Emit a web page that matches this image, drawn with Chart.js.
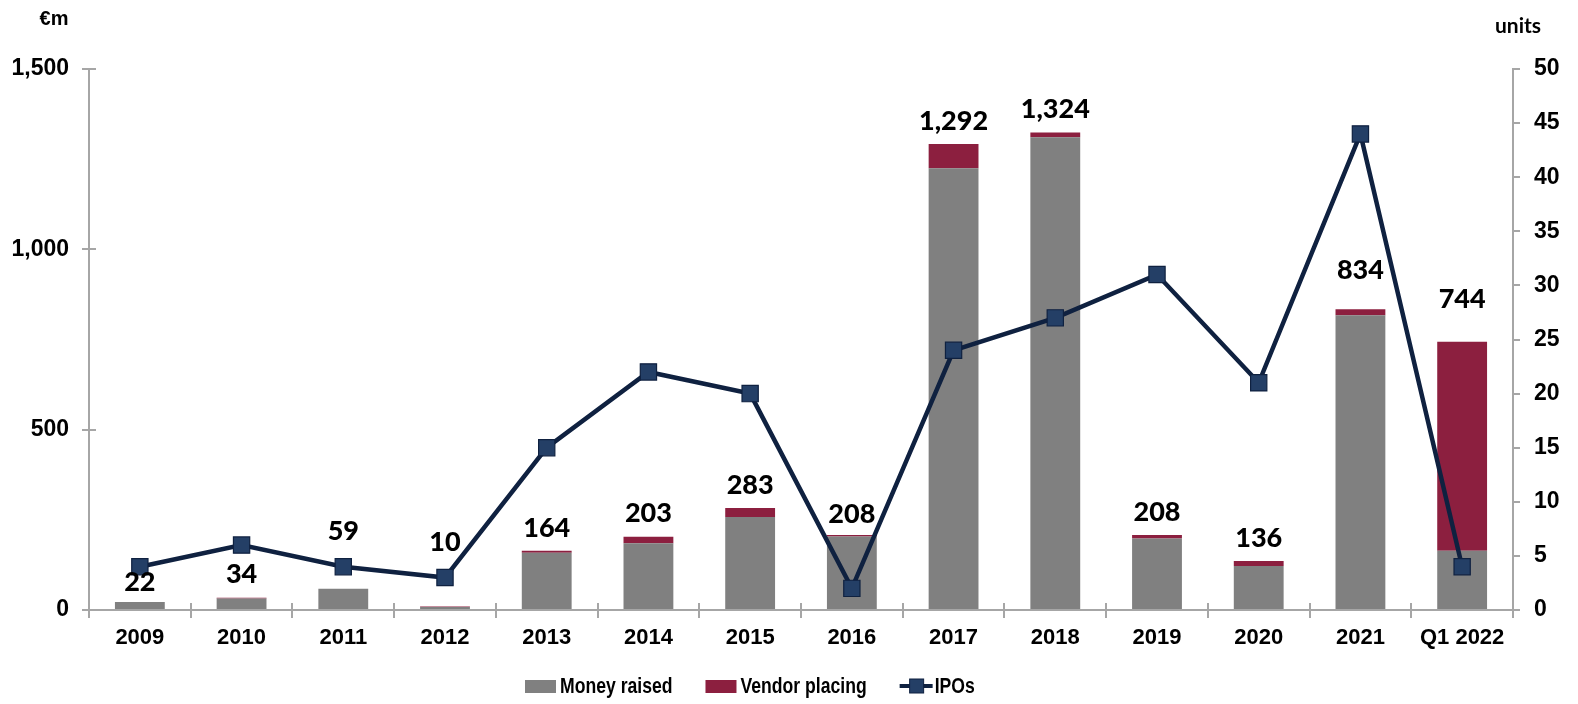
<!DOCTYPE html>
<html>
<head>
<meta charset="utf-8">
<script src="https://cdn.jsdelivr.net/npm/chart.js@4.4.1/dist/chart.umd.min.js"></script>
<style>
  html, body { margin: 0; padding: 0; background: #ffffff; }
  #wrap { width: 1578px; height: 704px; position: relative; }
</style>
</head>
<body>
<div id="wrap"><canvas id="c" width="1578" height="704"></canvas></div>
<script>
const categories = ['2009','2010','2011','2012','2013','2014','2015','2016','2017','2018','2019','2020','2021','Q1 2022'];
const moneyRaised = [22, 32, 59, 8, 159, 185, 258, 204, 1225, 1311, 198, 122, 817, 164];
const vendorPlacing = [0, 2, 0, 2, 5, 18, 25, 4, 67, 13, 10, 14, 17, 580];
const ipos = [4, 6, 4, 3, 15, 22, 20, 2, 24, 27, 31, 21, 44, 4];
const leftTicks = [0, 500, 1000, 1500];
const rightTicks = [0, 5, 10, 15, 20, 25, 30, 35, 40, 45, 50];
const seriesNames = ['Money raised', 'Vendor placing', 'IPOs'];
const leftUnit = '€m';
const rightUnit = 'units';

const GRAY = '#808080';
const RED = '#8C1F3F';
const NAVY = '#0F2140';
const MARK = '#243F66';
const AXIS = '#A6A6A6';
const TICKFONT = "'Liberation Sans', Arial, sans-serif";
const LABELFONT = "Lato, 'Open Sans', sans-serif";

// vertical nudges (px) for the total labels, matching the manual placement
const labelNudge = [3, 0, -34, -41, 0, 0, 0, 2, 0, 0, 0, 0, -16, -19];

const extras = {
  id: 'extras',
  afterDraw(chart) {
    const ctx = chart.ctx;
    const ca = chart.chartArea;
    ctx.save();
    // unit labels
    ctx.fillStyle = '#000';
    ctx.textBaseline = 'middle';
    ctx.textAlign = 'center';
    ctx.font = "bold 20px " + TICKFONT;
    ctx.fillText(leftUnit, 54, 19);
    ctx.font = "bold 21px " + LABELFONT;
    ctx.fillText(rightUnit, 1518, 26);
    // inner halves of tick marks (crossing ticks)
    ctx.strokeStyle = AXIS;
    ctx.lineWidth = 2;
    const y = chart.scales.y;
    y.ticks.forEach((t, i) => {
      const py = Math.round(y.getPixelForTick(i));
      ctx.beginPath(); ctx.moveTo(ca.left, py); ctx.lineTo(ca.left + 7, py); ctx.stroke();
    });
    const step = (ca.right - ca.left) / categories.length;
    for (let i = 1; i < categories.length; i++) {
      const px = Math.round(ca.left + step * i);
      ctx.beginPath(); ctx.moveTo(px, ca.bottom - 7); ctx.lineTo(px, ca.bottom); ctx.stroke();
    }

    // legend (condensed text, as in the original)
    const legendY = 686;
    const sx = 0.8;
    ctx.font = "bold 22px " + TICKFONT;
    ctx.textAlign = 'left';
    ctx.textBaseline = 'middle';
    const colors = [GRAY, RED];
    let x = 525;
    seriesNames.forEach((name, i) => {
      if (i < 2) {
        ctx.fillStyle = colors[i];
        ctx.fillRect(x, legendY - 6, 31, 13);
        x += 31 + 4;
      } else {
        ctx.strokeStyle = NAVY; ctx.lineWidth = 4;
        ctx.beginPath(); ctx.moveTo(x, legendY); ctx.lineTo(x + 33, legendY); ctx.stroke();
        ctx.fillStyle = MARK; ctx.fillRect(x + 10, legendY - 7, 14, 14);
        ctx.strokeStyle = NAVY; ctx.lineWidth = 1; ctx.strokeRect(x + 10, legendY - 7, 14, 14);
        x += 33 + 2;
      }
      const w = ctx.measureText(name).width * sx;
      ctx.save();
      ctx.translate(x, legendY);
      ctx.scale(sx, 1);
      ctx.fillStyle = '#000';
      ctx.fillText(name, 0, 1);
      ctx.restore();
      x += w + 33;
    });
    ctx.restore();
  },
  afterDatasetsDraw(chart) {
    const ctx = chart.ctx;
    const meta0 = chart.getDatasetMeta(0);
    const ys = chart.scales.y;
    ctx.save();
    ctx.fillStyle = '#000';
    ctx.textAlign = 'center';
    ctx.textBaseline = 'middle';
    ctx.font = "900 27px " + LABELFONT;
    categories.forEach((c, i) => {
      const total = moneyRaised[i] + vendorPlacing[i];
      const x = meta0.data[i].x;
      const top = ys.getPixelForValue(total);
      ctx.fillText(total.toLocaleString('en-US'), x, top - 23 + labelNudge[i]);
    });
    ctx.restore();
  }
};

new Chart(document.getElementById('c'), {
  type: 'bar',
  data: {
    labels: categories,
    datasets: [
      {
        label: seriesNames[0], data: moneyRaised, backgroundColor: GRAY,
        yAxisID: 'y', stack: 's', order: 2,
        barPercentage: 0.49, categoryPercentage: 1.0
      },
      {
        label: seriesNames[1], data: vendorPlacing, backgroundColor: RED,
        yAxisID: 'y', stack: 's', order: 2,
        barPercentage: 0.49, categoryPercentage: 1.0
      },
      {
        type: 'line', label: seriesNames[2], data: ipos, yAxisID: 'y1', order: 0,
        borderColor: NAVY, borderWidth: 4.5, tension: 0,
        pointStyle: 'rect', pointRadius: 11.5, pointHoverRadius: 11.5,
        pointBackgroundColor: MARK, pointBorderColor: NAVY, pointBorderWidth: 1.2
      }
    ]
  },
  options: {
    responsive: false,
    animation: false,
    devicePixelRatio: 1,
    layout: { padding: { top: 69, left: 0, right: 0, bottom: 40 } },
    plugins: {
      tooltip: { enabled: false },
      legend: { display: false }
    },
    scales: {
      x: {
        stacked: true,
        offset: true,
        grid: { display: true, offset: true, drawOnChartArea: false, drawTicks: true, tickLength: 8, color: AXIS, lineWidth: 2 },
        border: { display: true, color: AXIS, width: 2 },
        ticks: { color: '#000', padding: 7, font: { family: TICKFONT, weight: 'bold', size: 22 }, maxRotation: 0, autoSkip: false },
        afterFit(s) { s.height = 54; }
      },
      y: {
        stacked: true,
        position: 'left',
        min: 0, max: 1500,
        afterBuildTicks(s) { s.ticks = leftTicks.map(v => ({ value: v })); },
        grid: { display: true, drawOnChartArea: false, drawTicks: true, tickLength: 7, color: AXIS, lineWidth: 2 },
        border: { display: true, color: AXIS, width: 2 },
        ticks: { color: '#000', padding: 13, font: { family: TICKFONT, weight: 'bold', size: 23 },
          callback: v => v.toLocaleString('en-US') },
        afterFit(s) { s.width = 89; }
      },
      y1: {
        position: 'right',
        min: 0, max: 50,
        afterBuildTicks(s) { s.ticks = rightTicks.map(v => ({ value: v })); },
        grid: { display: true, drawOnChartArea: false, drawTicks: true, tickLength: 7, color: AXIS, lineWidth: 2 },
        border: { display: true, color: AXIS, width: 2 },
        ticks: { color: '#000', padding: 14, font: { family: TICKFONT, weight: 'bold', size: 23 } },
        afterFit(s) { s.width = 65; }
      }
    }
  },
  plugins: [extras]
});
</script>
</body>
</html>
